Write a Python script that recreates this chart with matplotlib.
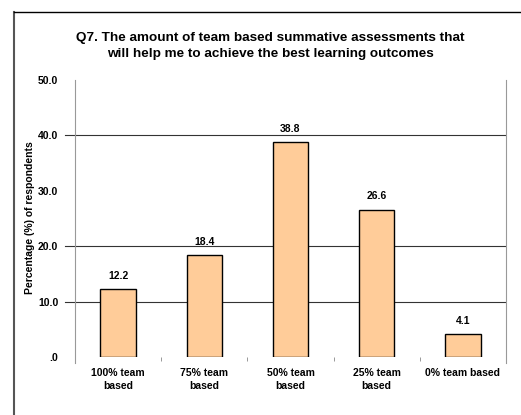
import matplotlib.pyplot as plt
from matplotlib.lines import Line2D

categories = ['100% team\nbased', '75% team\nbased', '50% team\nbased', '25% team\nbased', '0% team based']
values = [12.2, 18.4, 38.8, 26.6, 4.1]
grid_levels = [10, 20, 40]
yticks = [0, 10, 20, 30, 40, 50]
ytick_labels = ['.0', '10.0', '20.0', '30.0', '40.0', '50.0']

plt.rcParams['font.family'] = ['Liberation Sans', 'DejaVu Sans']

fig = plt.figure(figsize=(5.21, 4.15), dpi=100)
ax = fig.add_axes([75/521, 1 - 357/415, 431/521, 277/415])

x = list(range(len(categories)))
ax.bar(x, values, width=0.41, color='#FFCC99', edgecolor='black', linewidth=1.0, zorder=3)
for xi, v in zip(x, values):
    ax.text(xi, v + 1.5, f'{v:.1f}', ha='center', va='bottom', fontsize=7.5, fontweight='bold')

for g in grid_levels:
    ax.axhline(g, color='#333333', linewidth=0.8, zorder=1)

ax.set_xlim(-0.5, len(categories) - 0.5)
ax.set_ylim(0, 50)
ax.set_yticks(yticks)
ax.set_yticklabels(ytick_labels, fontsize=7.5, fontweight='bold')
ax.tick_params(axis='y', length=0, pad=12)
ax.set_xticks(x)
ax.set_xticklabels(categories, fontsize=7.5, fontweight='bold', linespacing=1.3)
ax.tick_params(axis='x', length=0, pad=8)
# category separator ticks
ax.set_xticks([i + 0.5 for i in x[:-1]], minor=True)
ax.tick_params(axis='x', which='minor', length=3, color='#888888', direction='out')
# tick marks at gridlines on the left
for g in grid_levels:
    ax.plot([-0.5 - 0.12, -0.5], [g, g], color='#333333', linewidth=0.8, clip_on=False)

ax.spines['top'].set_visible(False)
ax.spines['bottom'].set_visible(False)
ax.spines['left'].set_color('#999999')
ax.spines['right'].set_color('#999999')
ax.spines['left'].set_bounds(-1, 50)
ax.spines['right'].set_bounds(-1, 50)

fig.text(30/521, 1 - 218/415, 'Percentage (%) of respondents', rotation=90,
         ha='center', va='center', fontsize=7.5, fontweight='bold')

fig.text(270/521, 1 - 46/415,
         'Q7. The amount of team based summative assessments that\nwill help me to achieve the best learning outcomes',
         ha='center', va='center', fontsize=9.7, fontweight='bold', linespacing=1.35)

# outer frame
fig.add_artist(Line2D([14/521, 14/521], [0, 1 - 12/415], color='#555555', linewidth=1.5, transform=fig.transFigure))
fig.add_artist(Line2D([14/521, 1], [1 - 12/415, 1 - 12/415], color='black', linewidth=1.0, transform=fig.transFigure))

fig.savefig('out.png', dpi=100)
